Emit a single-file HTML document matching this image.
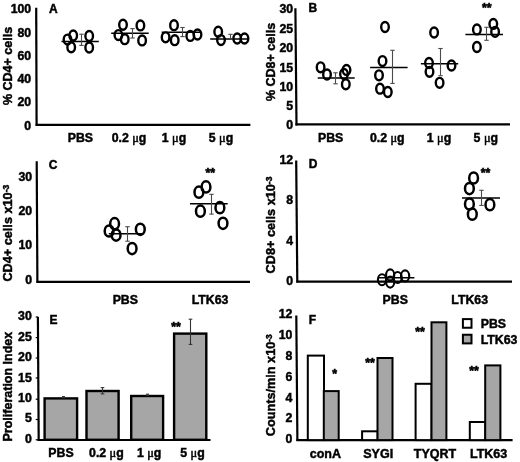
<!DOCTYPE html>
<html><head><meta charset="utf-8"><style>
html,body{margin:0;padding:0;background:#fff;}
svg{display:block;filter:grayscale(100%) blur(0.3px);}
text{font-family:"Liberation Sans",sans-serif;font-weight:bold;fill:#000;stroke:#000;stroke-width:0.45px;}
</style></head><body>
<svg width="520" height="462" viewBox="0 0 520 462">
<rect width="520" height="462" fill="#fff"/>
<line x1="36.2" y1="7.8" x2="36.6" y2="125.8" stroke="#000" stroke-width="2.2"/>
<line x1="35.6" y1="124.8" x2="250.4" y2="124.8" stroke="#000" stroke-width="2.2"/>
<text x="31.2" y="13.0" text-anchor="end" font-size="12.3" >100</text>
<text x="31.2" y="36.51" text-anchor="end" font-size="12.3" >80</text>
<text x="31.2" y="60.01" text-anchor="end" font-size="12.3" >60</text>
<text x="31.2" y="82.6" text-anchor="end" font-size="12.3" >40</text>
<text x="31.2" y="106.1" text-anchor="end" font-size="12.3" >20</text>
<text x="31.2" y="129.5" text-anchor="end" font-size="12.3" >0</text>
<text x="48.9" y="13.2" text-anchor="start" font-size="12" >A</text>
<text transform="translate(11.6,66) rotate(-90)" text-anchor="middle" font-size="12.5">% CD4+ cells</text>
<text x="80.4" y="142.3" text-anchor="middle" font-size="12.3" >PBS</text>
<text x="129" y="142.3" text-anchor="middle" font-size="12.3" >0.2 <tspan font-family="Liberation Serif" font-weight="normal" style="stroke-width:0.5px">μ</tspan>g</text>
<text x="174" y="142.3" text-anchor="middle" font-size="12.3" >1 <tspan font-family="Liberation Serif" font-weight="normal" style="stroke-width:0.5px">μ</tspan>g</text>
<text x="221" y="142.3" text-anchor="middle" font-size="12.3" >5 <tspan font-family="Liberation Serif" font-weight="normal" style="stroke-width:0.5px">μ</tspan>g</text>
<ellipse cx="67.5" cy="39.6" rx="3.8" ry="4.95" fill="none" stroke="#000" stroke-width="2.4"/>
<ellipse cx="73.2" cy="35.5" rx="3.8" ry="4.95" fill="none" stroke="#000" stroke-width="2.4"/>
<ellipse cx="71.2" cy="47.3" rx="3.8" ry="4.95" fill="none" stroke="#000" stroke-width="2.4"/>
<ellipse cx="89.2" cy="36" rx="3.8" ry="4.95" fill="none" stroke="#000" stroke-width="2.4"/>
<ellipse cx="89.2" cy="47.5" rx="3.8" ry="4.95" fill="none" stroke="#000" stroke-width="2.4"/>
<line x1="61.5" y1="41.4" x2="98.8" y2="41.4" stroke="#000" stroke-width="1.5"/>
<line x1="81.5" y1="34.2" x2="81.5" y2="45.4" stroke="#4a4a4a" stroke-width="1.1"/>
<line x1="79.3" y1="34.2" x2="83.7" y2="34.2" stroke="#4a4a4a" stroke-width="1.1"/>
<line x1="79.3" y1="45.4" x2="83.7" y2="45.4" stroke="#4a4a4a" stroke-width="1.1"/>
<ellipse cx="123" cy="24.75" rx="3.8" ry="4.95" fill="none" stroke="#000" stroke-width="2.4"/>
<ellipse cx="118.4" cy="35.1" rx="3.8" ry="4.95" fill="none" stroke="#000" stroke-width="2.4"/>
<ellipse cx="124.75" cy="39.15" rx="3.8" ry="4.95" fill="none" stroke="#000" stroke-width="2.4"/>
<ellipse cx="140.4" cy="25.4" rx="3.8" ry="4.95" fill="none" stroke="#000" stroke-width="2.4"/>
<ellipse cx="142.1" cy="40.45" rx="3.8" ry="4.95" fill="none" stroke="#000" stroke-width="2.4"/>
<line x1="111.2" y1="33.2" x2="148.7" y2="33.2" stroke="#000" stroke-width="1.5"/>
<line x1="132.5" y1="28.6" x2="132.5" y2="38" stroke="#4a4a4a" stroke-width="1.1"/>
<line x1="130.3" y1="28.6" x2="134.7" y2="28.6" stroke="#4a4a4a" stroke-width="1.1"/>
<line x1="130.3" y1="38" x2="134.7" y2="38" stroke="#4a4a4a" stroke-width="1.1"/>
<ellipse cx="174" cy="25.2" rx="3.8" ry="4.95" fill="none" stroke="#000" stroke-width="2.4"/>
<ellipse cx="165.6" cy="37.3" rx="3.8" ry="4.95" fill="none" stroke="#000" stroke-width="2.4"/>
<ellipse cx="174.7" cy="40.2" rx="3.8" ry="4.95" fill="none" stroke="#000" stroke-width="2.4"/>
<ellipse cx="190.3" cy="35.9" rx="3.8" ry="4.95" fill="none" stroke="#000" stroke-width="2.4"/>
<ellipse cx="197.5" cy="34.5" rx="3.8" ry="4.95" fill="none" stroke="#000" stroke-width="2.4"/>
<line x1="161.7" y1="32.2" x2="201" y2="32.2" stroke="#000" stroke-width="1.5"/>
<line x1="182.5" y1="27.5" x2="182.5" y2="36.6" stroke="#4a4a4a" stroke-width="1.1"/>
<line x1="180.3" y1="27.5" x2="184.7" y2="27.5" stroke="#4a4a4a" stroke-width="1.1"/>
<line x1="180.3" y1="36.6" x2="184.7" y2="36.6" stroke="#4a4a4a" stroke-width="1.1"/>
<ellipse cx="218.2" cy="31.7" rx="3.8" ry="4.95" fill="none" stroke="#000" stroke-width="2.4"/>
<ellipse cx="221" cy="40.1" rx="3.8" ry="4.95" fill="none" stroke="#000" stroke-width="2.4"/>
<ellipse cx="237.2" cy="38.5" rx="3.8" ry="4.95" fill="none" stroke="#000" stroke-width="2.4"/>
<ellipse cx="244.5" cy="38.5" rx="3.8" ry="4.95" fill="none" stroke="#000" stroke-width="2.4"/>
<line x1="210.2" y1="38.9" x2="248.7" y2="38.9" stroke="#000" stroke-width="1.5"/>
<line x1="230.5" y1="34.3" x2="230.5" y2="38.8" stroke="#4a4a4a" stroke-width="1.1"/>
<line x1="228.3" y1="34.3" x2="232.7" y2="34.3" stroke="#4a4a4a" stroke-width="1.1"/>
<line x1="228.3" y1="38.8" x2="232.7" y2="38.8" stroke="#4a4a4a" stroke-width="1.1"/>
<line x1="295.4" y1="8.3" x2="296.5" y2="125.4" stroke="#000" stroke-width="2.2"/>
<line x1="295.5" y1="124.4" x2="510" y2="124.4" stroke="#000" stroke-width="2.2"/>
<text x="293.2" y="13.0" text-anchor="end" font-size="12.3" >30</text>
<text x="293.2" y="32.7" text-anchor="end" font-size="12.3" >25</text>
<text x="293.2" y="52.41" text-anchor="end" font-size="12.3" >20</text>
<text x="293.2" y="71.5" text-anchor="end" font-size="12.3" >15</text>
<text x="293.2" y="91.21" text-anchor="end" font-size="12.3" >10</text>
<text x="293.2" y="109.91" text-anchor="end" font-size="12.3" >5</text>
<text x="293.2" y="128.81" text-anchor="end" font-size="12.3" >0</text>
<text x="308.6" y="11.6" text-anchor="start" font-size="12" >B</text>
<text transform="translate(275.3,62) rotate(-90)" text-anchor="middle" font-size="12.5">% CD8+ cells</text>
<text x="330.6" y="142.3" text-anchor="middle" font-size="12.3" >PBS</text>
<text x="387.2" y="142.3" text-anchor="middle" font-size="12.3" >0.2 <tspan font-family="Liberation Serif" font-weight="normal" style="stroke-width:0.5px">μ</tspan>g</text>
<text x="439" y="142.3" text-anchor="middle" font-size="12.3" >1 <tspan font-family="Liberation Serif" font-weight="normal" style="stroke-width:0.5px">μ</tspan>g</text>
<text x="485.8" y="142.3" text-anchor="middle" font-size="12.3" >5 <tspan font-family="Liberation Serif" font-weight="normal" style="stroke-width:0.5px">μ</tspan>g</text>
<ellipse cx="320.6" cy="67.3" rx="3.8" ry="4.95" fill="none" stroke="#000" stroke-width="2.4"/>
<ellipse cx="327" cy="74.5" rx="3.8" ry="4.95" fill="none" stroke="#000" stroke-width="2.4"/>
<ellipse cx="346.5" cy="69.9" rx="3.8" ry="4.95" fill="none" stroke="#000" stroke-width="2.4"/>
<ellipse cx="344" cy="74" rx="3.8" ry="4.95" fill="none" stroke="#000" stroke-width="2.4"/>
<ellipse cx="345.8" cy="84.3" rx="3.8" ry="4.95" fill="none" stroke="#000" stroke-width="2.4"/>
<line x1="317.7" y1="78.1" x2="354.7" y2="78.1" stroke="#000" stroke-width="1.5"/>
<line x1="335.5" y1="72.8" x2="335.5" y2="83.8" stroke="#4a4a4a" stroke-width="1.1"/>
<line x1="333.3" y1="72.8" x2="337.7" y2="72.8" stroke="#4a4a4a" stroke-width="1.1"/>
<line x1="333.3" y1="83.8" x2="337.7" y2="83.8" stroke="#4a4a4a" stroke-width="1.1"/>
<ellipse cx="385" cy="27" rx="3.8" ry="4.95" fill="none" stroke="#000" stroke-width="2.4"/>
<ellipse cx="382.5" cy="61.1" rx="3.8" ry="4.95" fill="none" stroke="#000" stroke-width="2.4"/>
<ellipse cx="379" cy="75.3" rx="3.8" ry="4.95" fill="none" stroke="#000" stroke-width="2.4"/>
<ellipse cx="380" cy="88.7" rx="3.8" ry="4.95" fill="none" stroke="#000" stroke-width="2.4"/>
<ellipse cx="387.8" cy="92" rx="3.8" ry="4.95" fill="none" stroke="#000" stroke-width="2.4"/>
<line x1="370.1" y1="67.4" x2="407.6" y2="67.4" stroke="#000" stroke-width="1.5"/>
<line x1="392.5" y1="50.3" x2="392.5" y2="83.4" stroke="#4a4a4a" stroke-width="1.1"/>
<line x1="390.3" y1="50.3" x2="394.7" y2="50.3" stroke="#4a4a4a" stroke-width="1.1"/>
<line x1="390.3" y1="83.4" x2="394.7" y2="83.4" stroke="#4a4a4a" stroke-width="1.1"/>
<ellipse cx="434.1" cy="32.5" rx="3.8" ry="4.95" fill="none" stroke="#000" stroke-width="2.4"/>
<ellipse cx="429" cy="63" rx="3.8" ry="4.95" fill="none" stroke="#000" stroke-width="2.4"/>
<ellipse cx="429.5" cy="71.8" rx="3.8" ry="4.95" fill="none" stroke="#000" stroke-width="2.4"/>
<ellipse cx="451.5" cy="65.5" rx="3.8" ry="4.95" fill="none" stroke="#000" stroke-width="2.4"/>
<ellipse cx="439.6" cy="82.8" rx="3.8" ry="4.95" fill="none" stroke="#000" stroke-width="2.4"/>
<line x1="420.9" y1="63.7" x2="458.2" y2="63.7" stroke="#000" stroke-width="1.5"/>
<line x1="440.5" y1="48.5" x2="440.5" y2="75.7" stroke="#4a4a4a" stroke-width="1.1"/>
<line x1="438.3" y1="48.5" x2="442.7" y2="48.5" stroke="#4a4a4a" stroke-width="1.1"/>
<line x1="438.3" y1="75.7" x2="442.7" y2="75.7" stroke="#4a4a4a" stroke-width="1.1"/>
<ellipse cx="476.9" cy="29.4" rx="3.8" ry="4.95" fill="none" stroke="#000" stroke-width="2.4"/>
<ellipse cx="476.9" cy="47" rx="3.8" ry="4.95" fill="none" stroke="#000" stroke-width="2.4"/>
<ellipse cx="493.3" cy="23.9" rx="3.8" ry="4.95" fill="none" stroke="#000" stroke-width="2.4"/>
<ellipse cx="495.1" cy="31.85" rx="3.8" ry="4.95" fill="none" stroke="#000" stroke-width="2.4"/>
<line x1="465.4" y1="34.6" x2="503" y2="34.6" stroke="#000" stroke-width="1.5"/>
<line x1="486.5" y1="27.3" x2="486.5" y2="40.3" stroke="#4a4a4a" stroke-width="1.1"/>
<line x1="484.3" y1="27.3" x2="488.7" y2="27.3" stroke="#4a4a4a" stroke-width="1.1"/>
<line x1="484.3" y1="40.3" x2="488.7" y2="40.3" stroke="#4a4a4a" stroke-width="1.1"/>
<text x="486.8" y="11.5" text-anchor="middle" font-size="12.3" style="stroke-width:0.6px">**</text>
<line x1="36.7" y1="161.2" x2="37.4" y2="282.8" stroke="#000" stroke-width="2.2"/>
<line x1="36.4" y1="281.8" x2="250" y2="281.8" stroke="#000" stroke-width="2.2"/>
<text x="32.2" y="180.61" text-anchor="end" font-size="12.3" >30</text>
<text x="32.2" y="214.81" text-anchor="end" font-size="12.3" >20</text>
<text x="32.2" y="249.41" text-anchor="end" font-size="12.3" >10</text>
<text x="32.2" y="284.2" text-anchor="end" font-size="12.3" >0</text>
<text x="48.8" y="168.9" text-anchor="start" font-size="12" >C</text>
<text transform="translate(11.8,233.2) rotate(-90)" text-anchor="middle" font-size="12.7">CD4+ cells x10<tspan font-size="8.5" dy="-2.8">-3</tspan></text>
<text x="125.3" y="303.6" text-anchor="middle" font-size="12.3" >PBS</text>
<text x="210" y="303.6" text-anchor="middle" font-size="12.3" >LTK63</text>
<ellipse cx="114.6" cy="223.7" rx="4.4" ry="5.6" fill="none" stroke="#000" stroke-width="2.5"/>
<ellipse cx="109.1" cy="231" rx="4.4" ry="5.6" fill="none" stroke="#000" stroke-width="2.5"/>
<ellipse cx="116.1" cy="235.1" rx="4.4" ry="5.6" fill="none" stroke="#000" stroke-width="2.5"/>
<ellipse cx="140.3" cy="229.3" rx="4.4" ry="5.6" fill="none" stroke="#000" stroke-width="2.5"/>
<ellipse cx="132.1" cy="248.6" rx="4.4" ry="5.6" fill="none" stroke="#000" stroke-width="2.5"/>
<line x1="108.8" y1="233.7" x2="143.5" y2="233.7" stroke="#000" stroke-width="1.5"/>
<line x1="127.5" y1="226.7" x2="127.5" y2="241.2" stroke="#4a4a4a" stroke-width="1.1"/>
<line x1="125.3" y1="226.7" x2="129.7" y2="226.7" stroke="#4a4a4a" stroke-width="1.1"/>
<line x1="125.3" y1="241.2" x2="129.7" y2="241.2" stroke="#4a4a4a" stroke-width="1.1"/>
<ellipse cx="206" cy="186.9" rx="4.4" ry="5.6" fill="none" stroke="#000" stroke-width="2.5"/>
<ellipse cx="198.9" cy="192.2" rx="4.4" ry="5.6" fill="none" stroke="#000" stroke-width="2.5"/>
<ellipse cx="200.4" cy="211.2" rx="4.4" ry="5.6" fill="none" stroke="#000" stroke-width="2.5"/>
<ellipse cx="219.9" cy="207.7" rx="4.4" ry="5.6" fill="none" stroke="#000" stroke-width="2.5"/>
<ellipse cx="223" cy="223.3" rx="4.4" ry="5.6" fill="none" stroke="#000" stroke-width="2.5"/>
<line x1="190" y1="203.7" x2="227.7" y2="203.7" stroke="#000" stroke-width="1.5"/>
<line x1="211.5" y1="194.3" x2="211.5" y2="214.1" stroke="#4a4a4a" stroke-width="1.1"/>
<line x1="209.3" y1="194.3" x2="213.7" y2="194.3" stroke="#4a4a4a" stroke-width="1.1"/>
<line x1="209.3" y1="214.1" x2="213.7" y2="214.1" stroke="#4a4a4a" stroke-width="1.1"/>
<text x="210.2" y="176.5" text-anchor="middle" font-size="12.3" style="stroke-width:0.6px">**</text>
<line x1="296.2" y1="160.6" x2="297.3" y2="282.6" stroke="#000" stroke-width="2.2"/>
<line x1="296.3" y1="281.6" x2="512" y2="281.6" stroke="#000" stroke-width="2.2"/>
<text x="293.1" y="164.41" text-anchor="end" font-size="12.3" >12</text>
<text x="293.1" y="204.41" text-anchor="end" font-size="12.3" >8</text>
<text x="293.1" y="245.31" text-anchor="end" font-size="12.3" >4</text>
<text x="293.1" y="285.0" text-anchor="end" font-size="12.3" >0</text>
<text x="308.7" y="167.8" text-anchor="start" font-size="12" >D</text>
<text transform="translate(275,225) rotate(-90)" text-anchor="middle" font-size="12.7">CD8+ cells x10<tspan font-size="8.5" dy="-2.8">-3</tspan></text>
<text x="395.2" y="304" text-anchor="middle" font-size="12.3" >PBS</text>
<text x="469.7" y="304" text-anchor="middle" font-size="12.3" >LTK63</text>
<ellipse cx="382" cy="279.7" rx="4.1" ry="5.5" fill="none" stroke="#000" stroke-width="2.1"/>
<ellipse cx="390.2" cy="274.9" rx="4.1" ry="5.5" fill="none" stroke="#000" stroke-width="2.1"/>
<ellipse cx="390.2" cy="282.1" rx="4.1" ry="5.5" fill="none" stroke="#000" stroke-width="2.1"/>
<ellipse cx="397.6" cy="277.5" rx="4.1" ry="5.5" fill="none" stroke="#000" stroke-width="2.1"/>
<ellipse cx="405.1" cy="275.9" rx="4.1" ry="5.5" fill="none" stroke="#000" stroke-width="2.1"/>
<line x1="378.5" y1="277.8" x2="414.4" y2="277.8" stroke="#000" stroke-width="1.5"/>
<ellipse cx="473.6" cy="178" rx="4.4" ry="5.6" fill="none" stroke="#000" stroke-width="2.5"/>
<ellipse cx="469.4" cy="188.6" rx="4.4" ry="5.6" fill="none" stroke="#000" stroke-width="2.5"/>
<ellipse cx="469.4" cy="204" rx="4.4" ry="5.6" fill="none" stroke="#000" stroke-width="2.5"/>
<ellipse cx="472.3" cy="214.2" rx="4.4" ry="5.6" fill="none" stroke="#000" stroke-width="2.5"/>
<ellipse cx="489.9" cy="204.7" rx="4.4" ry="5.6" fill="none" stroke="#000" stroke-width="2.5"/>
<line x1="462" y1="198" x2="500" y2="198" stroke="#000" stroke-width="1.5"/>
<line x1="481.5" y1="190.3" x2="481.5" y2="205.4" stroke="#4a4a4a" stroke-width="1.1"/>
<line x1="479.3" y1="190.3" x2="483.7" y2="190.3" stroke="#4a4a4a" stroke-width="1.1"/>
<line x1="479.3" y1="205.4" x2="483.7" y2="205.4" stroke="#4a4a4a" stroke-width="1.1"/>
<text x="485.6" y="177" text-anchor="middle" font-size="12.3" style="stroke-width:0.6px">**</text>
<line x1="37.9" y1="317.1" x2="38.7" y2="441" stroke="#000" stroke-width="2.2"/>
<line x1="37.7" y1="440" x2="210.5" y2="440" stroke="#000" stroke-width="2.2"/>
<line x1="35.7" y1="317" x2="38.3" y2="317" stroke="#000" stroke-width="1.2"/>
<line x1="35.7" y1="337.6" x2="38.3" y2="337.6" stroke="#000" stroke-width="1.2"/>
<line x1="35.7" y1="358" x2="38.3" y2="358" stroke="#000" stroke-width="1.2"/>
<line x1="35.7" y1="378" x2="38.3" y2="378" stroke="#000" stroke-width="1.2"/>
<line x1="35.7" y1="399.2" x2="38.3" y2="399.2" stroke="#000" stroke-width="1.2"/>
<line x1="35.7" y1="419.5" x2="38.3" y2="419.5" stroke="#000" stroke-width="1.2"/>
<line x1="35.7" y1="439.8" x2="38.3" y2="439.8" stroke="#000" stroke-width="1.2"/>
<text x="31.8" y="320.31" text-anchor="end" font-size="12.3" >30</text>
<text x="31.8" y="340.81" text-anchor="end" font-size="12.3" >25</text>
<text x="31.8" y="361.2" text-anchor="end" font-size="12.3" >20</text>
<text x="31.8" y="381.61" text-anchor="end" font-size="12.3" >15</text>
<text x="31.8" y="401.91" text-anchor="end" font-size="12.3" >10</text>
<text x="31.8" y="422.2" text-anchor="end" font-size="12.3" >5</text>
<text x="31.8" y="442.5" text-anchor="end" font-size="12.3" >0</text>
<text x="49.5" y="323.6" text-anchor="start" font-size="12" >E</text>
<text transform="translate(11.6,386.6) rotate(-90)" text-anchor="middle" font-size="12.5">Proliferation Index</text>
<rect x="44.6" y="398.4" width="32.5" height="41.40000000000001" fill="#a6a6a6" stroke="#000" stroke-width="2.4"/>
<rect x="86.5" y="391.0" width="32.1" height="48.79999999999999" fill="#a6a6a6" stroke="#000" stroke-width="2.4"/>
<rect x="131.2" y="396.0" width="31.900000000000013" height="43.79999999999999" fill="#a6a6a6" stroke="#000" stroke-width="2.4"/>
<rect x="174.1" y="333.59999999999997" width="32.199999999999996" height="106.20000000000002" fill="#a6a6a6" stroke="#000" stroke-width="2.4"/>
<line x1="63.5" y1="396.6" x2="63.5" y2="397.8" stroke="#333" stroke-width="1.1"/>
<line x1="62.0" y1="396.6" x2="65.0" y2="396.6" stroke="#333" stroke-width="1.1"/>
<line x1="62.0" y1="397.8" x2="65.0" y2="397.8" stroke="#333" stroke-width="1.1"/>
<line x1="102.5" y1="387.6" x2="102.5" y2="393.9" stroke="#333" stroke-width="1.1"/>
<line x1="100.7" y1="387.6" x2="104.3" y2="387.6" stroke="#333" stroke-width="1.1"/>
<line x1="100.7" y1="393.9" x2="104.3" y2="393.9" stroke="#333" stroke-width="1.1"/>
<line x1="147.5" y1="394.2" x2="147.5" y2="395.4" stroke="#333" stroke-width="1.1"/>
<line x1="146.0" y1="394.2" x2="149.0" y2="394.2" stroke="#333" stroke-width="1.1"/>
<line x1="146.0" y1="395.4" x2="149.0" y2="395.4" stroke="#333" stroke-width="1.1"/>
<line x1="190.5" y1="319.2" x2="190.5" y2="344.4" stroke="#333" stroke-width="1.1"/>
<line x1="188.7" y1="319.2" x2="192.3" y2="319.2" stroke="#333" stroke-width="1.1"/>
<line x1="188.7" y1="344.4" x2="192.3" y2="344.4" stroke="#333" stroke-width="1.1"/>
<text x="176" y="331" text-anchor="middle" font-size="12.3" style="stroke-width:0.6px">**</text>
<text x="61" y="457.3" text-anchor="middle" font-size="12.3" >PBS</text>
<text x="106.4" y="457.3" text-anchor="middle" font-size="12.3" >0.2 <tspan font-family="Liberation Serif" font-weight="normal" style="stroke-width:0.5px">μ</tspan>g</text>
<text x="149.2" y="457.3" text-anchor="middle" font-size="12.3" >1 <tspan font-family="Liberation Serif" font-weight="normal" style="stroke-width:0.5px">μ</tspan>g</text>
<text x="192.5" y="457.3" text-anchor="middle" font-size="12.3" >5 <tspan font-family="Liberation Serif" font-weight="normal" style="stroke-width:0.5px">μ</tspan>g</text>
<line x1="296.3" y1="315.6" x2="297.4" y2="441.1" stroke="#000" stroke-width="2.2"/>
<line x1="296.4" y1="440.1" x2="512.6" y2="440.1" stroke="#000" stroke-width="2.2"/>
<text x="292.4" y="318.41" text-anchor="end" font-size="12.3" >12</text>
<text x="292.4" y="339.2" text-anchor="end" font-size="12.3" >10</text>
<text x="292.4" y="359.7" text-anchor="end" font-size="12.3" >8</text>
<text x="292.4" y="380.81" text-anchor="end" font-size="12.3" >6</text>
<text x="292.4" y="401.91" text-anchor="end" font-size="12.3" >4</text>
<text x="292.4" y="422.2" text-anchor="end" font-size="12.3" >2</text>
<text x="292.4" y="442.5" text-anchor="end" font-size="12.3" >0</text>
<text x="308.8" y="323.6" text-anchor="start" font-size="12" >F</text>
<text transform="translate(274.6,385.2) rotate(-90)" text-anchor="middle" font-size="12.7">Counts/min x10<tspan font-size="8.5" dy="-2.8">-3</tspan></text>
<rect x="307.8" y="355.6" width="16.19999999999999" height="84.5" fill="#fff" stroke="#000" stroke-width="2"/>
<rect x="323.8" y="391.1" width="14.899999999999977" height="49.0" fill="#a6a6a6" stroke="#000" stroke-width="2"/>
<rect x="362.1" y="431.3" width="15.599999999999966" height="8.800000000000011" fill="#fff" stroke="#000" stroke-width="2"/>
<rect x="377.5" y="358.0" width="15.0" height="82.10000000000002" fill="#a6a6a6" stroke="#000" stroke-width="2"/>
<rect x="415.6" y="383.8" width="16.0" height="56.30000000000001" fill="#fff" stroke="#000" stroke-width="2"/>
<rect x="431.5" y="322.3" width="14.899999999999977" height="117.80000000000001" fill="#a6a6a6" stroke="#000" stroke-width="2"/>
<rect x="469.8" y="422.0" width="15.599999999999966" height="18.100000000000023" fill="#fff" stroke="#000" stroke-width="2"/>
<rect x="485.2" y="365.4" width="15.199999999999989" height="74.70000000000005" fill="#a6a6a6" stroke="#000" stroke-width="2"/>
<text x="334.7" y="377.7" text-anchor="middle" font-size="12.3" style="stroke-width:0.6px">*</text>
<text x="370" y="367" text-anchor="middle" font-size="12.3" style="stroke-width:0.6px">**</text>
<text x="420" y="336" text-anchor="middle" font-size="12.3" style="stroke-width:0.6px">**</text>
<text x="474" y="375" text-anchor="middle" font-size="12.3" style="stroke-width:0.6px">**</text>
<rect x="462.9" y="319.1" width="8.600000000000023" height="8.649999999999977" fill="#fff" stroke="#000" stroke-width="2"/>
<rect x="462.9" y="334.75" width="8.600000000000023" height="8.649999999999977" fill="#a6a6a6" stroke="#000" stroke-width="2"/>
<text x="480.7" y="327.5" text-anchor="start" font-size="12.3" >PBS</text>
<text x="480.7" y="343.6" text-anchor="start" font-size="12.3" >LTK63</text>
<text x="325.4" y="457.6" text-anchor="middle" font-size="12.5" >conA</text>
<text x="378.2" y="457.6" text-anchor="middle" font-size="12.5" >SYGI</text>
<text x="435" y="457.6" text-anchor="middle" font-size="12.5" >TYQRT</text>
<text x="488.6" y="457.6" text-anchor="middle" font-size="12.5" >LTK63</text>
</svg>
</body></html>
